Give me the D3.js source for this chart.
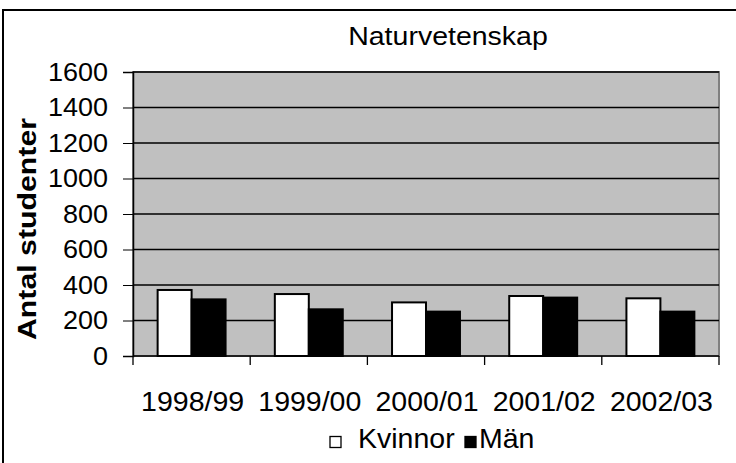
<!DOCTYPE html>
<html><head><meta charset="utf-8">
<script src="https://cdn.jsdelivr.net/npm/d3@7"></script>
<style>body{margin:0;background:#fff}svg{display:block}text{font-family:"Liberation Sans",Arial,sans-serif}</style>
</head><body>
<svg id="c" width="736" height="463"></svg>
<script>
const title = "Naturvetenskap";
const yLabel = "Antal studenter";
const categories = ["1998/99","1999/00","2000/01","2001/02","2002/03"];
const seriesNames = ["Kvinnor","Män"];
const kvinnor = [372,349,302,338,325];
const man = [319,263,250,329,250];
const yTicks = [0,200,400,600,800,1000,1200,1400,1600];
const colors = ["#ffffff","#000000"];

const svg = d3.select("#c");
const L=133, R=719, T=72, B=356;

function stretch(sel, f){
  sel.each(function(){
    const w = this.getComputedTextLength();
    d3.select(this).attr("textLength", w*f).attr("lengthAdjust","spacingAndGlyphs");
  });
}

svg.append("rect").attr("x",3).attr("y",10).attr("width",740).attr("height",460)
  .attr("fill","#fff").attr("stroke","#000").attr("stroke-width",2);

const tt = svg.append("text").attr("x",448).attr("y",44.5).attr("text-anchor","middle")
  .attr("font-size",25).text(title);
stretch(tt, 1.14);

const y = d3.scaleLinear().domain([0,1600]).range([B,T]);
const x0 = d3.scaleBand().domain(categories).range([L,R]).padding(0);
const x1 = d3.scaleBand().domain(seriesNames).range([0,x0.bandwidth()]).paddingInner(0).paddingOuter(0.725);

svg.append("rect").attr("x",L).attr("y",T).attr("width",R-L).attr("height",B-T)
  .attr("fill","#c0c0c0").attr("stroke","#808080").attr("stroke-width",2);

svg.append("g").selectAll("line").data(yTicks.filter(d=>d>0)).join("line")
  .attr("x1",L).attr("x2",R).attr("y1",d=>y(d)).attr("y2",d=>y(d))
  .attr("stroke","#000").attr("stroke-width",1.3);

const data = categories.map((c,i)=>({c, v:[kvinnor[i], man[i]]}));
const g = svg.append("g");
data.forEach(d=>{
  seriesNames.forEach((s,j)=>{
    g.append("rect").attr("x",x0(d.c)+x1(s)).attr("y",y(d.v[j]))
      .attr("width",x1.bandwidth()).attr("height",B-y(d.v[j]))
      .attr("fill",colors[j]).attr("stroke","#000").attr("stroke-width",2);
  });
});

const yAxis = svg.append("g").attr("transform",`translate(${L},0)`)
  .call(d3.axisLeft(y).tickValues(yTicks).tickSize(10).tickPadding(15).tickFormat(d3.format("d")));
yAxis.select(".domain").attr("stroke","#000").attr("stroke-width",1.5);
yAxis.selectAll("text").attr("font-size",25).attr("fill","#000").attr("font-family","'Liberation Sans',Arial,sans-serif");
stretch(yAxis.selectAll("text"), 1.08);
yAxis.selectAll(".tick line").attr("stroke","#000");

const xAxis = svg.append("g").attr("transform",`translate(0,${B})`);
xAxis.append("line").attr("x1",L).attr("x2",R).attr("y1",0).attr("y2",0).attr("stroke","#000").attr("stroke-width",1.5);
const bounds = categories.map(c=>x0(c)).concat([x0(categories[categories.length-1])+x0.bandwidth()]);
xAxis.selectAll("line.tk").data(bounds).join("line").attr("class","tk")
  .attr("x1",d=>d).attr("x2",d=>d).attr("y1",0).attr("y2",9).attr("stroke","#000").attr("stroke-width",1.3);
xAxis.selectAll("text").data(categories).join("text")
  .attr("x",d=>x0(d)+x0.bandwidth()/2+1).attr("y",55).attr("text-anchor","middle")
  .attr("font-size",28.5).text(d=>d);

const yl = svg.append("text").attr("transform","translate(36,229) rotate(-90)")
  .attr("text-anchor","middle").attr("font-size",25).attr("font-weight","bold").text(yLabel);
yl.attr("textLength",222).attr("lengthAdjust","spacingAndGlyphs");

const leg = svg.append("g");
const legX = [330, 465], legTX = [358, 479];
seriesNames.forEach((s,j)=>{
  leg.append("rect").attr("x",legX[j]).attr("y",436.5).attr("width",11).attr("height",11)
    .attr("fill",colors[j]).attr("stroke","#000").attr("stroke-width",1.3);
  leg.append("text").attr("x",legTX[j]).attr("y",448).attr("font-size",28.5).text(s);
});
</script>
</body></html>
